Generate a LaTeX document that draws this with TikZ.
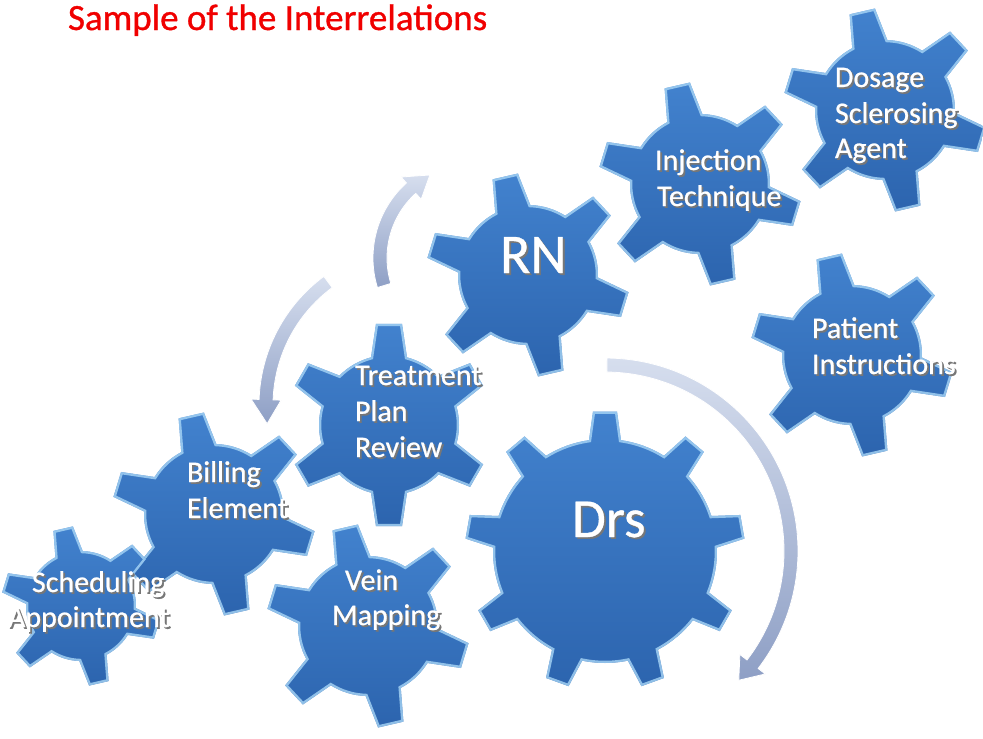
\documentclass[tikz,border=0pt]{standalone}
\usepackage{fontspec}
\setmainfont{Carlito}
\newfontfamily\lblfont{Carlito}[FakeBold=0.7]
\newfontfamily\titlefont{Carlito}[FakeBold=0.9]
\definecolor{geartop}{HTML}{4282CE}
\definecolor{gearbot}{HTML}{2C64AE}
\definecolor{gearedge}{HTML}{A8D6F6}
\definecolor{arrlight}{HTML}{D6DEEE}
\definecolor{arrdark}{HTML}{8E9FC5}
\definecolor{shadowgray}{HTML}{777777}
\definecolor{titlered}{HTML}{F00000}

% gear outline: r R n theta0 bw tw
\newcommand\gearshape[6]{%
  ({#4-asin(#5/#1)}:#1)
  \foreach \k in {1,...,#3}{
    -- ({#4+(\k-1)*360/#3-asin(#6/#2)}:#2)
    -- ({#4+(\k-1)*360/#3+asin(#6/#2)}:#2)
    -- ({#4+(\k-1)*360/#3+asin(#5/#1)}:#1)
    arc[start angle={#4+(\k-1)*360/#3+asin(#5/#1)}, end angle={#4+\k*360/#3-asin(#5/#1)}, radius=#1]
  } -- cycle}

% name cx cy r R n theta0 bw tw
\newcommand\drawgear[9]{%
 \begin{scope}[shift={(#2,#3)}]
  \coordinate (#1) at (0,0);
  \begin{scope}
   \clip \gearshape{#4}{#5}{#6}{#7}{#8}{#9};
   \shade[top color=geartop, bottom color=gearbot] (-#5,-#5) rectangle (#5,#5);
   \draw[gearedge, line width=4.5, opacity=.8] \gearshape{#4}{#5}{#6}{#7}{#8}{#9};
  \end{scope}
 \end{scope}}

% cx cy r w h th1 th2 th3
\newcommand\blockarrow[8]{%
  \shadedraw[top color=arrlight, bottom color=arrdark, draw=white, line width=0.8, shift={(#1,#2)}]
   (#6:{#3+#4}) arc[start angle=#6, end angle=#7, radius={#3+#4}]
   -- (#7:{#3+#5}) -- (#8:#3) -- (#7:{#3-#5}) -- (#7:{#3-#4})
   arc[start angle=#7, end angle=#6, radius={#3-#4}] -- cycle;}

\tikzset{lbl/.style={anchor=base west, inner sep=0, outer sep=0}}

% name x y size text
\newcommand\glabel[5]{%
 \node[lbl, text=shadowgray, font=\lblfont\fontsize{#4}{#4}\selectfont] (#1s) at (#2+1.8,#3+1.8) {#5};
 \node[lbl, text=white, font=\lblfont\fontsize{#4}{#4}\selectfont] (#1) at (#2,#3) {#5};}

\begin{document}
\begin{tikzpicture}[x=1pt, y=-1pt]
\useasboundingbox (0,0) rectangle (983,739);
\fill[white] (0,0) rectangle (983,739);

% gears
\drawgear{gDosage}{885}{110}{70}{102}{6}{-103}{18}{13}
\drawgear{gInject}{700}{184}{70}{102}{6}{-103}{18}{13}
\drawgear{gPatient}{852}{355}{70}{102}{6}{-103}{18}{13}
\drawgear{gRN}{528}{275}{70}{102}{6}{-103}{18}{13}
\drawgear{gDrs}{605}{551}{112}{140}{9}{-90}{16}{12}
\drawgear{gTreat}{389}{425}{70}{102}{6}{-90}{18}{13}
\drawgear{gVein}{368}{626}{70}{102}{6}{-103}{18}{13}
\drawgear{gBill}{214}{514}{70}{102}{6}{-103}{18}{13}
\drawgear{gSched}{81}{606}{55}{80}{6}{-103}{14}{10}

% curved arrows
\blockarrow{474}{258}{94}{7}{15}{-197}{-132}{-118}
\blockarrow{419}{405}{153}{7}{15}{-126.5}{-178}{-187}
\blockarrow{605}{551}{186}{7}{16}{-89.4}{37.5}{44}

% title
\node[lbl, text=titlered, font=\titlefont\fontsize{37}{37}\selectfont] (title) at (68,30) {Sample of the Interrelations};

% labels
\glabel{tDos1}{835}{87}{30}{Dosage}
\glabel{tDos2}{835}{123}{30}{Sclerosing}
\glabel{tDos3}{835}{158}{30}{Agent}
\glabel{tInj1}{655}{170}{30}{Injection}
\glabel{tInj2}{657}{206}{30}{Technique}
\glabel{tRN}{500}{273}{56}{RN}
\glabel{tPat1}{812}{338}{30}{Patient}
\glabel{tPat2}{812}{374}{30}{Instructions}
\glabel{tTr1}{355}{385}{30}{Treatment}
\glabel{tTr2}{355}{421}{30}{Plan}
\glabel{tTr3}{355}{457}{30}{Review}
\glabel{tBil1}{187}{482}{30}{Billing}
\glabel{tBil2}{187}{518}{30}{Element}
\glabel{tDrs}{572}{537}{55}{Drs}
\glabel{tSch1}{32}{592}{30}{Scheduling}
\glabel{tSch2}{8}{627}{30}{Appointment}
\glabel{tVein1}{345}{590}{30}{Vein}
\glabel{tVein2}{332}{625}{30}{Mapping}
\end{tikzpicture}
\end{document}
